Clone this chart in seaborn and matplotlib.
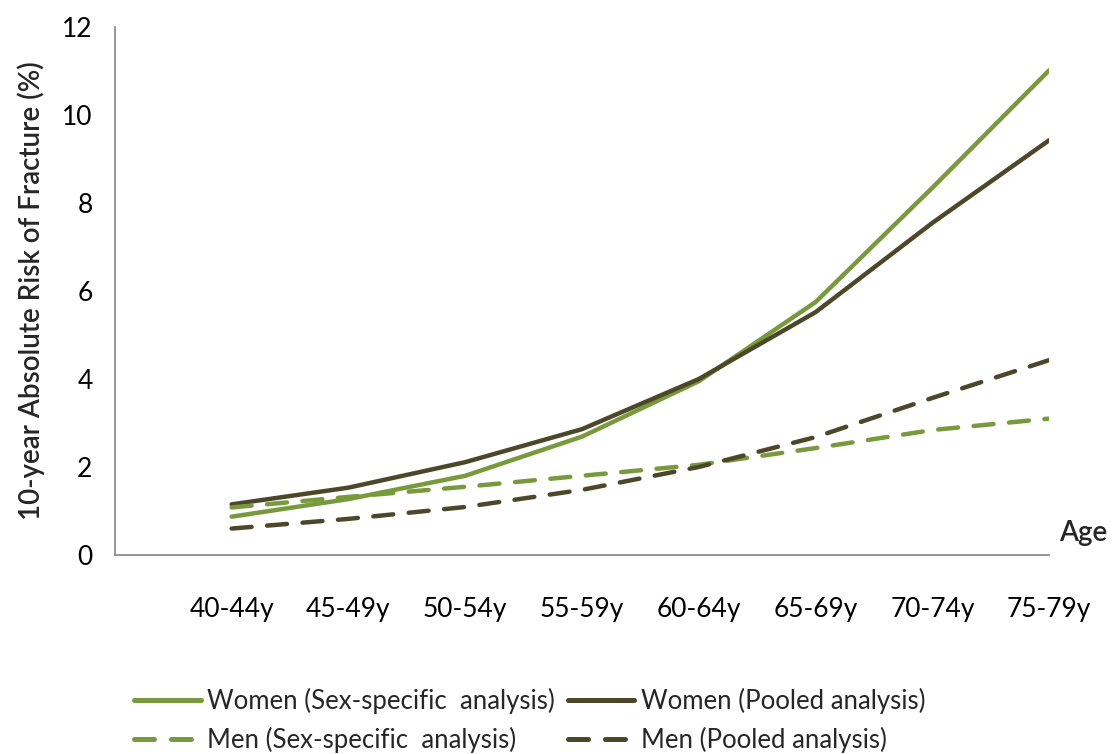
import numpy as np
import pandas as pd
import matplotlib
matplotlib.use("Agg")
import matplotlib.pyplot as plt
import seaborn as sns
from matplotlib.lines import Line2D

# Data
ages = ["40-44y", "45-49y", "50-54y", "55-59y", "60-64y", "65-69y", "70-74y", "75-79y"]
women_sex_specific = [0.87, 1.27, 1.80, 2.69, 3.95, 5.75, 8.35, 11.02]
women_pooled = [1.15, 1.53, 2.11, 2.86, 4.00, 5.52, 7.55, 9.43]
men_sex_specific = [1.08, 1.32, 1.55, 1.80, 2.05, 2.43, 2.84, 3.10]
men_pooled = [0.60, 0.82, 1.09, 1.48, 2.00, 2.68, 3.57, 4.43]

GREEN = "#789a3c"
DARK = "#4d4729"

sns.set_theme(style="white")
plt.rcParams["font.family"] = ["Lato", "DejaVu Sans"]

pos = np.arange(len(ages))
series = [
    ("Women (Sex-specific  analysis)", women_sex_specific, GREEN, "-"),
    ("Women (Pooled analysis)", women_pooled, DARK, "-"),
    ("Men (Sex-specific  analysis)", men_sex_specific, GREEN, "--"),
    ("Men (Pooled analysis)", men_pooled, DARK, "--"),
]

fig = plt.figure(figsize=(11.15, 7.54), dpi=100)
ax = fig.add_axes([0.103, 0.264, 0.838, 0.700])

handles = {}
for name, vals, col, ls in series:
    df = pd.DataFrame({"pos": pos, "risk": vals})
    sns.lineplot(data=df, x="pos", y="risk", ax=ax, color=col, linewidth=3.2)
    line = ax.lines[-1]
    if ls == "--":
        line.set_dashes((4.5, 3.5))
        line.set_dash_capstyle("round")
    handles[name] = Line2D([0], [0], color=col, lw=3.6,
                           dashes=(4.0, 3.4) if ls == "--" else (None, None),
                           dash_capstyle="round", solid_capstyle="round")

ax.set_xlim(-1, len(ages) - 1)
ax.set_ylim(0, 12)
ax.set_yticks(range(0, 13, 2))
ax.set_xticks(np.arange(-1, len(ages)))
ax.set_xticklabels([""] + ages)

for s in ["top", "right"]:
    ax.spines[s].set_visible(False)
for s in ["left", "bottom"]:
    ax.spines[s].set_color("#8c8c8c")
    ax.spines[s].set_linewidth(1.3)

ax.tick_params(axis="both", which="major", direction="out", length=8, width=1.3,
               color="#8c8c8c", labelsize=19, labelcolor="black")
ax.tick_params(axis="x", pad=22)
ax.tick_params(axis="y", pad=8)

ax.set_xlabel("")
ax.set_ylabel("10-year Absolute Risk of Fracture (%)", fontsize=20,
              fontweight="semibold", labelpad=12)
ax.text(1.01, 0.042, "Age", transform=ax.transAxes, fontsize=20,
        fontweight="semibold", ha="left", va="center")

order = [series[0][0], series[2][0], series[1][0], series[3][0]]
fig.legend([handles[n] for n in order], order, ncol=2, frameon=False,
           loc="center", bbox_to_anchor=(0.475, 0.044), fontsize=18.5,
           handlelength=2.6, handletextpad=0.25, columnspacing=0.5,
           labelspacing=0.5)

fig.savefig("out.png", dpi=100)
